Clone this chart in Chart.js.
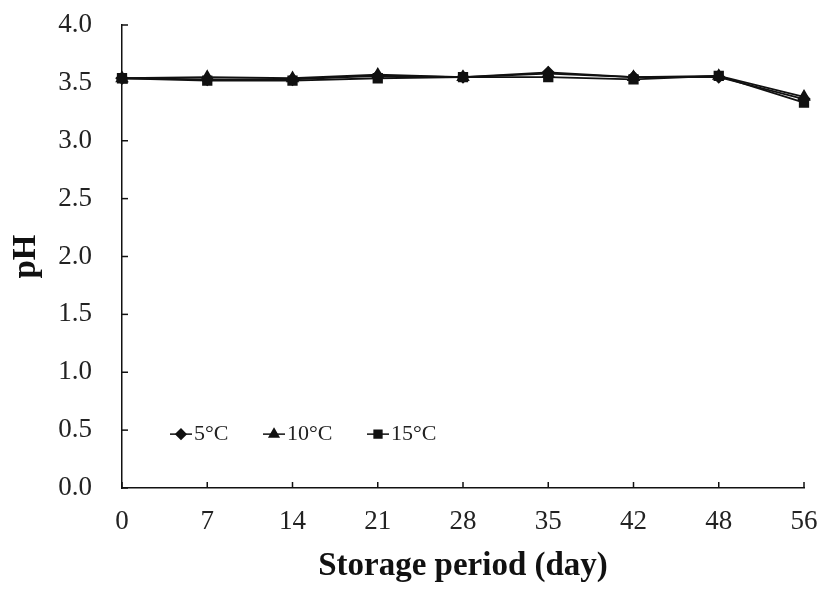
<!DOCTYPE html>
<html>
<head>
<meta charset="utf-8">
<script src="https://cdn.jsdelivr.net/npm/chart.js@4.4.1/dist/chart.umd.min.js"></script>
<style>
  body { margin: 0; background: #fff; }
  #wrap { width: 827px; height: 610px; }
</style>
</head>
<body>
<div id="wrap"><canvas id="grafico_ph" width="827" height="610"></canvas></div>
<script>
const dias = ['0', '7', '14', '21', '28', '35', '42', '48', '56'];
const ph5 = [3.54, 3.53, 3.53, 3.56, 3.55, 3.59, 3.55, 3.55, 3.36];
const ph10 = [3.54, 3.55, 3.54, 3.57, 3.55, 3.58, 3.55, 3.56, 3.38];
const ph15 = [3.54, 3.52, 3.52, 3.54, 3.55, 3.55, 3.53, 3.56, 3.33];
const legendas = ['5\u00B0C', '10\u00B0C', '15\u00B0C'];

const serif = '"Liberation Serif", "Times New Roman", serif';
const preto = '#111';

// ticks voltados para dentro + legenda dentro da area
const extras = {
  id: 'extras',
  afterDraw(chart) {
    const c = chart.ctx;
    const xs = chart.scales.x, ys = chart.scales.y;
    c.save();
    c.strokeStyle = preto;
    c.lineWidth = 1.5;
    ys.ticks.forEach((t, i) => {
      const y = ys.getPixelForTick(i);
      c.beginPath(); c.moveTo(xs.left, y); c.lineTo(xs.left + 6, y); c.stroke();
    });
    xs.ticks.forEach((t, i) => {
      const x = xs.getPixelForTick(i);
      c.beginPath(); c.moveTo(x, ys.bottom); c.lineTo(x, ys.bottom - 6); c.stroke();
    });
    // legenda
    const ly = ys.getPixelForValue(0.5) + 4;
    const posX = [xs.left + 48, xs.left + 141, xs.left + 245];
    c.font = '22px ' + serif;
    c.textBaseline = 'middle';
    chart.data.datasets.forEach((ds, i) => {
      const x0 = posX[i];
      c.strokeStyle = preto;
      c.lineWidth = 1.5;
      c.beginPath(); c.moveTo(x0, ly); c.lineTo(x0 + 22, ly); c.stroke();
      c.fillStyle = preto;
      Chart.helpers.drawPoint(c, {pointStyle: ds.pointStyle, radius: ds.pointRadius - 0.5, borderWidth: 1}, x0 + 11, ly);
      c.fillStyle = '#222';
      c.fillText(ds.label, x0 + 24, ly);
    });
    c.restore();
  }
};

const ctx = document.getElementById('grafico_ph').getContext('2d');
const grafico = new Chart(ctx, {
  type: 'line',
  data: {
    labels: dias,
    datasets: [{
      label: legendas[0],
      data: ph5,
      borderColor: preto,
      backgroundColor: preto,
      borderWidth: 1.8,
      pointStyle: 'rectRot',
      pointRadius: 5.5,
      tension: 0
    }, {
      label: legendas[1],
      data: ph10,
      borderColor: preto,
      backgroundColor: preto,
      borderWidth: 1.8,
      pointStyle: 'triangle',
      pointRadius: 6,
      tension: 0
    }, {
      label: legendas[2],
      data: ph15,
      borderColor: preto,
      backgroundColor: preto,
      borderWidth: 1.8,
      pointStyle: 'rect',
      pointRadius: 6,
      tension: 0
    }]
  },
  options: {
    responsive: false,
    animation: false,
    layout: { padding: { top: 25, right: 23, left: 0, bottom: 0 } },
    plugins: {
      legend: { display: false },
      tooltip: { enabled: false }
    },
    scales: {
      x: {
        offset: false,
        grid: { drawOnChartArea: false, drawTicks: true, tickLength: 18, tickColor: 'rgba(0,0,0,0)' },
        border: { color: preto, width: 1.5 },
        ticks: { color: '#222', padding: 0, font: { family: serif, size: 27 }, maxRotation: 0 },
        title: {
          display: true,
          text: 'Storage period (day)',
          color: '#111',
          font: { family: serif, size: 33, weight: 'bold' },
          padding: { top: 0, bottom: 24 }
        },
        afterFit(s) { s.height = 122; }
      },
      y: {
        min: 0,
        max: 4,
        grid: { drawOnChartArea: false, drawTicks: true, tickLength: 30, tickColor: 'rgba(0,0,0,0)' },
        border: { color: preto, width: 1.5 },
        ticks: {
          stepSize: 0.5,
          color: '#222',
          padding: 0,
          font: { family: serif, size: 27 },
          callback: v => v.toFixed(1)
        },
        title: {
          display: true,
          text: 'pH',
          color: '#111',
          font: { family: serif, size: 33, weight: 'bold' },
          padding: { top: 7, bottom: 0 }
        },
        afterFit(s) { s.width = 122; }
      }
    }
  },
  plugins: [extras]
});
</script>
</body>
</html>
